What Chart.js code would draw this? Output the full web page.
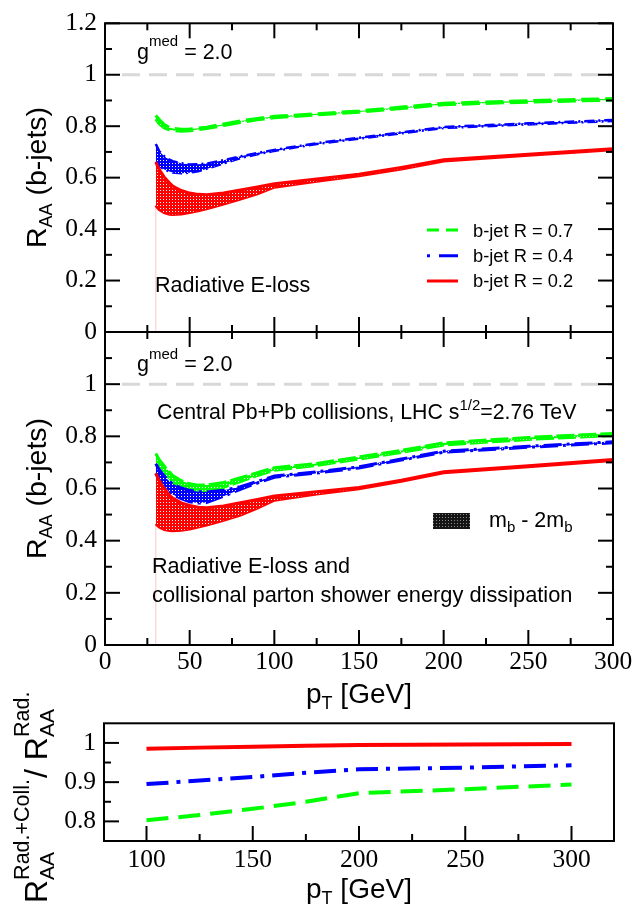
<!DOCTYPE html>
<html><head><meta charset="utf-8">
<script src="https://cdn.jsdelivr.net/npm/chart.js@4.4.0/dist/chart.umd.min.js"></script>
<style>
html,body{margin:0;padding:0;background:#fff;}
#wrap{position:relative;width:636px;height:907px;overflow:hidden;background:#fff;}
#wrap canvas{position:absolute;left:0;}
#ov{position:absolute;left:0;top:0;pointer-events:none;}
</style></head><body>
<div id="wrap">
<canvas id="cA" style="top:0px" width="636" height="370"></canvas>
<canvas id="cB" style="top:300px" width="636" height="420"></canvas>
<canvas id="cC" style="top:700px" width="636" height="207"></canvas>
<svg id="ov" width="636" height="907" xmlns="http://www.w3.org/2000/svg" font-family="'Liberation Sans', Arial, Helvetica, sans-serif" fill="#000">
<defs><pattern id="dk" width="3" height="3" patternUnits="userSpaceOnUse"><rect width="3" height="3" fill="#151515"/><rect x="1" y="1" width="1" height="1" fill="#8a8a8a"/></pattern></defs>
<!-- top panel -->
<text x="137" y="58.5" font-size="21.5">g<tspan font-size="15" dy="-12.5">med</tspan><tspan dy="12.5"> = 2.0</tspan></text>
<text x="155" y="291.7" font-size="21.5">Radiative E-loss</text>
<line x1="427" y1="230" x2="458" y2="230" stroke="#00ff00" stroke-width="3" stroke-dasharray="12,7"/>
<line x1="427" y1="255.7" x2="458" y2="255.7" stroke="#0000ff" stroke-width="3" stroke-dasharray="3,9,19,50"/>
<line x1="427" y1="281" x2="458" y2="281" stroke="#ff0000" stroke-width="3"/>
<text x="473" y="237.3" font-size="18.3">b-jet R = 0.7</text>
<text x="473" y="261.7" font-size="18.3">b-jet R = 0.4</text>
<text x="473" y="287.3" font-size="18.3">b-jet R = 0.2</text>
<!-- middle panel -->
<text x="137" y="371" font-size="21.5">g<tspan font-size="15" dy="-12.5">med</tspan><tspan dy="12.5"> = 2.0</tspan></text>
<text x="157" y="419" font-size="21.3">Central Pb+Pb collisions, LHC s<tspan font-size="15" dy="-9">1/2</tspan><tspan dy="9">=2.76 TeV</tspan></text>
<rect x="433" y="513" width="37" height="16" fill="url(#dk)"/>
<text x="489" y="527.3" font-size="21.5">m<tspan font-size="15" dy="5">b</tspan><tspan dy="-5"> - 2m</tspan><tspan font-size="15" dy="5">b</tspan></text>
<text x="152" y="573.3" font-size="21.6">Radiative E-loss and</text>
<text x="152" y="601.7" font-size="21.8">collisional parton shower energy dissipation</text>
<!-- axis titles -->
<text transform="translate(46,177.5) rotate(-90)" text-anchor="middle" font-size="28.5">R<tspan font-size="18" dy="6">AA</tspan><tspan dy="-6"> (b-jets)</tspan></text>
<text transform="translate(46,488.5) rotate(-90)" text-anchor="middle" font-size="28.5">R<tspan font-size="18" dy="6">AA</tspan><tspan dy="-6"> (b-jets)</tspan></text>
<text x="359" y="703" text-anchor="middle" font-size="28">p<tspan font-size="18" dy="6">T</tspan><tspan dy="-6"> [GeV]</tspan></text>
<text x="359" y="898" text-anchor="middle" font-size="28">p<tspan font-size="18" dy="6">T</tspan><tspan dy="-6"> [GeV]</tspan></text>
<g id="ratioTitle" transform="translate(47,903) rotate(-90)"></g>
</svg>
</div>
<script>
// ---------- data ----------
const pt = [30, 32, 35, 38, 40, 45, 50, 55, 60, 70, 80, 90, 100, 125, 150, 175, 200, 250, 300];
// Radiative E-loss (top panel), band edges m_b .. 2m_b
const radRedHi   = [0.660,0.632,0.602,0.580,0.567,0.550,0.540,0.535,0.534,0.540,0.552,0.564,0.576,0.595,0.613,0.640,0.670,0.691,0.712];
const radRedLo   = [0.492,0.476,0.464,0.458,0.457,0.459,0.464,0.471,0.479,0.497,0.517,0.537,0.563,0.586,0.607,0.634,0.665,0.687,0.708];
const radBlueHi  = [0.731,0.703,0.683,0.670,0.664,0.656,0.651,0.652,0.655,0.668,0.683,0.696,0.708,0.734,0.755,0.776,0.797,0.811,0.824];
const radBlueLo  = [0.662,0.645,0.632,0.624,0.620,0.617,0.619,0.625,0.634,0.655,0.676,0.691,0.704,0.731,0.752,0.772,0.793,0.807,0.820];
const radGreenHi = [0.842,0.826,0.806,0.795,0.791,0.788,0.789,0.792,0.796,0.808,0.820,0.830,0.838,0.848,0.859,0.874,0.889,0.899,0.907];
const radGreenLo = [0.828,0.810,0.794,0.786,0.783,0.781,0.783,0.787,0.791,0.803,0.815,0.825,0.833,0.844,0.855,0.869,0.884,0.894,0.902];
// Radiative + collisional (middle panel)
const colRedHi   = [0.658,0.630,0.600,0.575,0.563,0.545,0.535,0.528,0.526,0.533,0.545,0.558,0.571,0.588,0.604,0.632,0.664,0.687,0.711];
const colRedLo   = [0.464,0.452,0.443,0.439,0.438,0.440,0.445,0.452,0.460,0.478,0.498,0.525,0.555,0.579,0.599,0.628,0.660,0.683,0.707];
const colBlueHi  = [0.695,0.672,0.648,0.628,0.618,0.602,0.593,0.588,0.587,0.593,0.607,0.627,0.648,0.664,0.683,0.713,0.743,0.762,0.779];
const colBlueLo  = [0.658,0.635,0.607,0.587,0.577,0.561,0.549,0.544,0.546,0.570,0.597,0.621,0.643,0.659,0.679,0.709,0.739,0.758,0.775];
const colGreenHi = [0.734,0.710,0.686,0.664,0.650,0.630,0.618,0.613,0.613,0.623,0.641,0.661,0.680,0.696,0.721,0.746,0.775,0.796,0.811];
const colGreenLo = [0.695,0.674,0.651,0.633,0.623,0.605,0.594,0.588,0.588,0.605,0.627,0.650,0.670,0.688,0.713,0.738,0.767,0.788,0.803];
// Ratio panel
const ratioPt  = [100, 125, 150, 175, 200, 250, 300];
const ratioR02 = [0.985,0.988,0.990,0.993,0.995,0.996,0.997];
const ratioR04 = [0.895,0.904,0.913,0.924,0.933,0.937,0.943];
const ratioR07 = [0.803,0.816,0.832,0.850,0.872,0.882,0.894];
// reference lines
const unityX = [10, 300];
const unityY = [1, 1];
// ticks
const xTicksMain  = [0, 50, 100, 150, 200, 250, 300];
const xMinorMain  = [25, 75, 125, 175, 225, 275];
const yTicksMain  = [0, 0.2, 0.4, 0.6, 0.8, 1, 1.2];
const yLabelsMid  = [0, 0.2, 0.4, 0.6, 0.8, 1];
const yMinorMain  = [0.1, 0.3, 0.5, 0.7, 0.9, 1.1];
const xTicksRatio = [100, 150, 200, 250, 300];
const xMinorRatio = [125, 175, 225, 275];
const yTicksRatio = [0.8, 0.9, 1];
const yMinorRatio = [0.85, 0.95];

// ---------- helpers ----------
const RED = '#ff0000', BLUE = '#0000ff', GREEN = '#00ff00';
function pat(color){
  const c = document.createElement('canvas'); c.width = 3; c.height = 3;
  const g = c.getContext('2d');
  g.fillStyle = color; g.fillRect(0,0,3,3);
  g.fillStyle = '#ffffff'; g.fillRect(1,1,1,1);
  return g.createPattern(c, 'repeat');
}
const pts = (xs, ys) => xs.map((x, i) => ({x: x, y: ys[i]}));
function band(hi, lo, color, dash, width, fillPat){
  return [
    {data: pts(pt, hi), borderColor: color, borderWidth: width, borderDash: dash, fill: '+1', backgroundColor: fillPat, pointRadius: 0},
    {data: pts(pt, lo), borderColor: color, borderWidth: width, borderDash: dash, fill: false, pointRadius: 0}
  ];
}
const frameTicks = {
  id: 'frameTicks',
  afterDraw(chart, args, o){
    const ctx = chart.ctx, a = chart.chartArea, X = chart.scales.x, Y = chart.scales.y;
    ctx.save();
    ctx.strokeStyle = '#000'; ctx.lineWidth = 2; ctx.lineCap = 'butt';
    const seg = (x1,y1,x2,y2) => { ctx.beginPath(); ctx.moveTo(x1,y1); ctx.lineTo(x2,y2); ctx.stroke(); };
    [[o.xMajor,15],[o.xMinor,7]].forEach(([vals,len]) => vals.forEach(v => {
      const p = X.getPixelForValue(v);
      if (o.xSides.includes('bottom')) seg(p, a.bottom, p, a.bottom - len);
      if (o.xSides.includes('top')) seg(p, a.top, p, a.top + len);
    }));
    [[o.yMajor,15],[o.yMinor,7]].forEach(([vals,len]) => vals.forEach(v => {
      const p = Y.getPixelForValue(v);
      if (o.ySides.includes('left')) seg(a.left, p, a.left + len, p);
      if (o.ySides.includes('right')) seg(a.right, p, a.right - len, p);
    }));
    ctx.strokeRect(a.left, a.top, a.right - a.left, a.bottom - a.top);
    ctx.restore();
  }
};
const serif = {family: "'Liberation Serif', 'Times New Roman', serif", size: 25.5};
function makeChart(id, datasets, o){
  return new Chart(document.getElementById(id), {
    type: 'line',
    data: {datasets: datasets},
    plugins: [frameTicks],
    options: {
      responsive: false, animation: false, events: [],
      layout: {padding: o.padding},
      elements: {line: {tension: 0}, point: {radius: 0}},
      plugins: {legend: {display: false}, tooltip: {enabled: false}, frameTicks: o.ticks},
      scales: {
        x: {
          type: 'linear', min: o.xMin, max: o.xMax, display: o.xShow,
          grid: {display: false, drawTicks: false}, border: {display: false},
          ticks: {font: serif, color: '#000', padding: o.xPad, maxRotation: 0, autoSkip: false, callback: v => String(v)},
          afterBuildTicks: s => { s.ticks = o.xLabels.map(v => ({value: v})); },
          afterFit: s => { s.height = o.xH; }
        },
        y: {
          type: 'linear', min: o.yMin, max: o.yMax,
          grid: {display: false, drawTicks: false}, border: {display: false},
          ticks: {font: serif, color: '#000', padding: 8, autoSkip: false, callback: v => String(v)},
          afterBuildTicks: s => { s.ticks = o.yLabels.map(v => ({value: v})); },
          afterFit: s => { s.width = o.yW; }
        }
      }
    }
  });
}
const mainTicks = {xMajor: xTicksMain, xMinor: xMinorMain, xSides: ['bottom','top'],
                   yMajor: yTicksMain, yMinor: yMinorMain, ySides: ['left','right']};
const greyLine = {data: pts(unityX, unityY), borderColor: '#d8d8d8', borderWidth: 3, borderDash: [18, 9], fill: false, pointRadius: 0};
const pinkLine = (lo) => ({data: [{x: pt[0], y: 0}, {x: pt[0], y: lo[0]}], borderColor: 'rgba(255,140,140,0.5)', borderWidth: 1, fill: false, pointRadius: 0});

// Top: radiative
makeChart('cA', [
  ...band(radRedHi, radRedLo, RED, [], 3, pat(RED)),
  ...band(radBlueHi, radBlueLo, BLUE, [10,4,2,4], 2.5, pat(BLUE)),
  ...band(radGreenHi, radGreenLo, GREEN, [18,6], 3.2, pat(GREEN)),
  pinkLine(radRedLo), greyLine
], {padding: {left: 0, top: 18, right: 23, bottom: 38}, xMin: 0, xMax: 300, yMin: 0, yMax: 1.2,
    xShow: false, xPad: 3, xH: 0, xLabels: xTicksMain, yLabels: yTicksMain, yW: 105, ticks: mainTicks});

// Middle: radiative + collisional
makeChart('cB', [
  ...band(colRedHi, colRedLo, RED, [], 3, pat(RED)),
  ...band(colBlueHi, colBlueLo, BLUE, [18,5,3,5], 3, pat(BLUE)),
  ...band(colGreenHi, colGreenLo, GREEN, [18,4], 3, pat(GREEN)),
  pinkLine(colRedLo), greyLine
], {padding: {left: 0, top: 32, right: 23, bottom: 0}, xMin: 0, xMax: 300, yMin: 0, yMax: 1.2,
    xShow: true, xPad: 2, xH: 75, xLabels: xTicksMain, yLabels: yLabelsMid, yW: 105, ticks: mainTicks});

// Bottom: ratio
makeChart('cC', [
  {data: pts(ratioPt, ratioR02), borderColor: RED, borderWidth: 4, fill: false, pointRadius: 0},
  {data: pts(ratioPt, ratioR04), borderColor: BLUE, borderWidth: 4, borderDash: [22,8,4,8], fill: false, pointRadius: 0},
  {data: pts(ratioPt, ratioR07), borderColor: GREEN, borderWidth: 4, borderDash: [22,10], fill: false, pointRadius: 0}
], {padding: {left: 0, top: 23, right: 22, bottom: 0}, xMin: 80, xMax: 320, yMin: 0.75, yMax: 1.05,
    xShow: true, xPad: 4, xH: 66, xLabels: xTicksRatio, yLabels: yTicksRatio, yW: 104,
    ticks: {xMajor: xTicksRatio, xMinor: xMinorRatio, xSides: ['bottom'], yMajor: yTicksRatio, yMinor: yMinorRatio, ySides: ['left']}});

// ratio y-title with stacked sub/superscripts
(function(){
  const NS = 'http://www.w3.org/2000/svg', g = document.getElementById('ratioTitle');
  const add = (txt, size, x, y) => { const t = document.createElementNS(NS, 'text');
    t.setAttribute('x', x); t.setAttribute('y', y); t.setAttribute('font-size', size);
    t.textContent = txt; g.appendChild(t); return t.getComputedTextLength(); };
  let x = 0;
  x += add('R', 32, x, 0);
  const a1 = add('AA', 21, x, 7), s1 = add('Rad.+Coll.', 21.5, x, -18);
  x += Math.max(a1, s1) + 1;
  x += add('/ R', 32, x, 0);
  add('AA', 21, x, 7); add('Rad.', 21.5, x, -18);
})();
</script>
</body></html>
